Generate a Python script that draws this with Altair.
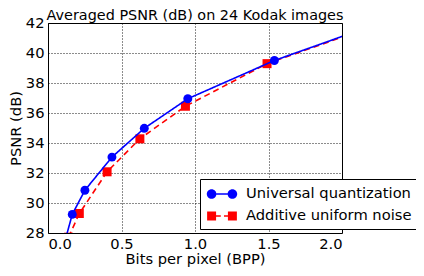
import altair as alt
import pandas as pd

# ---- data ----
uq_bpp = [0.115, 0.165, 0.251, 0.435, 0.655, 0.951, 1.54, 2.2]
uq_psnr = [27.45, 29.24, 30.85, 33.06, 34.98, 36.95, 39.5, 41.8]
un_bpp = [0.14, 0.213, 0.402, 0.625, 0.935, 1.49, 2.2]
un_psnr = [27.72, 29.3, 32.08, 34.28, 36.45, 39.29, 41.75]
series_names = ["Universal quantization", "Additive uniform noise"]
series_colors = ["#0000ff", "#ff0000"]
x_ticks = [0.0, 0.5, 1.0, 1.5, 2.0]
y_ticks = [28, 30, 32, 34, 36, 38, 40, 42]
title_text = ["Averaged PSNR (dB) on 24 Kodak images"]

df = pd.concat([
    pd.DataFrame({"bpp": uq_bpp, "psnr": uq_psnr, "series": series_names[0], "ord": range(len(uq_bpp))}),
    pd.DataFrame({"bpp": un_bpp, "psnr": un_psnr, "series": series_names[1], "ord": range(len(un_bpp))}),
])

FONT = "DejaVu Sans"
FS = 14.7
W, H = 294, 210

# legend glyphs (line + two markers) as custom symbol paths, unit = sqrt(size)/2 px
circ = lambda cx, r: f"M{cx - r},0 A{r},{r} 0 1,0 {cx + r},0 A{r},{r} 0 1,0 {cx - r},0 Z"
sq = lambda cx, h: f"M{cx - h},{-h} L{cx + h},{-h} L{cx + h},{h} L{cx - h},{h} Z"
rect = lambda x0, x1, h: f"M{x0},{-h} L{x1},{-h} L{x1},{h} L{x0},{h} Z"
glyph_uq = circ(-1.3, 0.6) + " " + circ(1.3, 0.6) + " " + rect(-0.7, 0.7, 0.1)
glyph_un = sq(-1.3, 0.56) + " " + sq(1.3, 0.56) + " " + rect(-0.74, -0.15, 0.1) + " " + rect(0.25, 0.74, 0.1)

xs = alt.Scale(domain=[0, 2], nice=False, zero=False)
ys = alt.Scale(domain=[28, 42], nice=False, zero=False)
cs = alt.Scale(domain=series_names, range=series_colors)

X = alt.X("bpp:Q", scale=xs, axis=alt.Axis(values=x_ticks, format=".1f", title="Bits per pixel (BPP)"))
Y = alt.Y("psnr:Q", scale=ys, axis=alt.Axis(values=y_ticks, format="d", title="PSNR (dB)"))

base = alt.Chart(df)


def series_layers(i, dash, shape, size):
    sub = base.transform_filter(alt.datum.series == series_names[i])
    ln = sub.mark_line(clip=True, strokeWidth=1.6, color=series_colors[i], strokeDash=dash).encode(
        x=X, y=Y, order="ord:Q")
    pt = sub.mark_point(clip=True, filled=True, opacity=1, shape=shape, size=size,
                        color=series_colors[i]).encode(x=X, y=Y)
    return [ln, pt]


layers = series_layers(1, [6, 4], "square", 81) + series_layers(0, [1, 0], "circle", 80)

# legend-only layer: no rows drawn, the legend comes from the explicit scale domains
leg = base.transform_filter("false").mark_point(filled=True, opacity=1).encode(
    x=X, y=Y,
    color=alt.Color("series:N", scale=cs, legend=alt.Legend(
        title=None, orient="none", legendX=152, legendY=156,
        padding=6, strokeColor="black", fillColor="white", cornerRadius=0,
        labelFont=FONT, labelFontSize=FS, labelColor="black", labelLimit=400,
        symbolSize=256, symbolOffset=7, labelOffset=15, rowPadding=6,
    )),
    shape=alt.Shape("series:N", scale=alt.Scale(domain=series_names, range=[glyph_uq, glyph_un])),
)

title = alt.Chart(pd.DataFrame({"t": title_text})).mark_text(
    font=FONT, fontSize=14.4, color="black", align="center", baseline="alphabetic"
).encode(text="t:N", x=alt.value(W / 2), y=alt.value(-3))

chart = alt.layer(*layers, leg, title).properties(
    width=W, height=H,
    autosize=alt.AutoSizeParams(type="none"),
    padding={"left": 40, "top": 15, "right": 74, "bottom": 35},
).configure_view(stroke="black", strokeWidth=1).configure_axis(
    labelFont=FONT, labelFontSize=FS, labelColor="black",
    titleFont=FONT, titleFontSize=FS, titleFontWeight="normal", titleColor="black",
    domain=False, ticks=False,
    grid=True, gridColor="black", gridDash=[1, 2], gridWidth=1, gridOpacity=0.9,
).configure_axisX(labelPadding=3, titlePadding=1).configure_axisY(labelPadding=4, titlePadding=2)

chart.save("out.html", embed_options={"renderer": "svg", "actions": False})
